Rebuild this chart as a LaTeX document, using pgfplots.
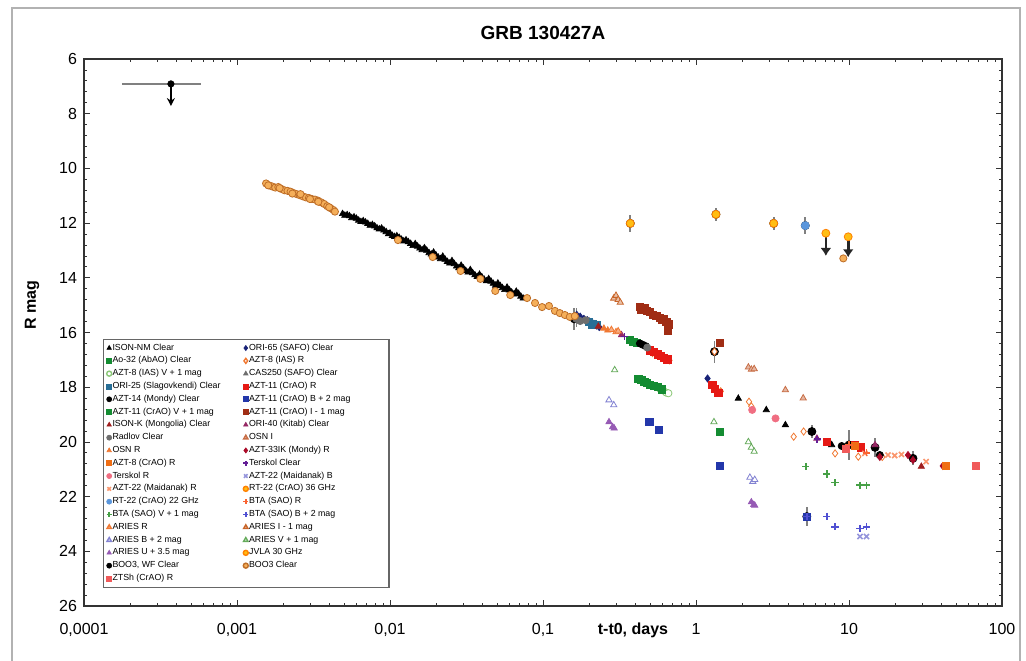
\documentclass[border=0pt]{standalone}
\usepackage{pgfplots}
\pgfplotsset{compat=1.18}
\usepackage{fontspec}
\setmainfont{Liberation Sans}
\usetikzlibrary{arrows.meta}

\definecolor{cGreen}{RGB}{20,140,50}
\definecolor{cLGreen}{RGB}{140,200,120}
\definecolor{cTeal}{RGB}{40,110,150}
\definecolor{cDRed}{RGB}{160,30,30}
\definecolor{cGrey}{RGB}{110,110,110}
\definecolor{cOrange}{RGB}{240,120,50}
\definecolor{cOrSq}{RGB}{240,110,20}
\definecolor{cPink}{RGB}{240,110,130}
\definecolor{cLOrange}{RGB}{250,150,110}
\definecolor{cBlueD}{RGB}{90,150,220}
\definecolor{cBTAg}{RGB}{70,160,70}
\definecolor{cLav}{RGB}{130,130,210}
\definecolor{cPurp}{RGB}{150,90,180}
\definecolor{cLRed}{RGB}{240,90,90}
\definecolor{cNavy}{RGB}{25,35,120}
\definecolor{cRed}{RGB}{230,25,20}
\definecolor{cBlue}{RGB}{35,55,170}
\definecolor{cBrownRed}{RGB}{160,45,20}
\definecolor{cMag}{RGB}{150,40,100}
\definecolor{cOsnI}{RGB}{200,110,70}
\definecolor{cDRed2}{RGB}{170,10,40}
\definecolor{cViolet}{RGB}{100,30,150}
\definecolor{cLav2}{RGB}{150,150,220}
\definecolor{cYel}{RGB}{255,190,20}
\definecolor{cOrPlus}{RGB}{250,100,50}
\definecolor{cBluePlus}{RGB}{80,80,210}
\definecolor{cBrown}{RGB}{200,100,40}
\definecolor{cGreenT}{RGB}{100,170,90}
\definecolor{cBoo}{RGB}{245,175,90}
\definecolor{cBooEdge}{RGB}{190,110,40}

\pgfplotsset{
  pt/.style 2 args={only marks, mark=#1, color=#2, mark size=1.8pt,
    mark options={line width=0.35pt}},
}

\begin{document}
\begin{tikzpicture}
\begin{axis}[
    at={(42pt,27pt)}, anchor=south west,
    scale only axis, width=459pt, height=273.5pt,
    xmode=log, xmin=1e-4, xmax=100,
    ymin=6, ymax=26, y dir=reverse,
    ytick={6,8,...,26}, minor y tick num=4,
    xtick={1e-4,1e-3,1e-2,1e-1,1,10,100},
    xticklabels={{0,0001},{0,001},{0,01},{0,1},1,10,100},
    tick align=inside, major tick length=3pt, minor tick length=1.6pt,
    tick style={black!80, line width=0.4pt},
    axis line style={black!80, line width=0.6pt},
    ticklabel style={font=\fontsize{8}{9}\selectfont},
    /pgf/number format/assume math mode=true,
    xticklabel style={yshift=-5pt},
    title={GRB 130427A},
    title style={font=\bfseries\fontsize{9.5}{11}\selectfont, at={(0.5,1)}, anchor=south, yshift=0pt},
    ylabel={R mag},
    ylabel style={font=\bfseries\fontsize{8}{9}\selectfont, at={(axis description cs:-0.041,0.55)}, anchor=south},
    xlabel={t-t0, days},
    xlabel style={font=\bfseries\fontsize{8}{9}\selectfont, at={(axis description cs:0.598,0)}, anchor=north, yshift=-5pt},
    legend columns=2,
    legend image code/.code={\draw[mark repeat=2,mark phase=2,#1] plot coordinates {(0pt,0pt)(3pt,0pt)(6pt,0pt)};},
    legend image post style={mark size=1.25pt},
    legend style={at={(0.0207,0.033)}, anchor=south west, draw=black!60, line width=0.7pt,
      fill=white, font=\fontsize{4.4}{4.8}\selectfont, inner xsep=1.5pt, inner ysep=2pt,
      row sep=1.6pt, nodes={inner sep=0.4pt, text height=3pt, text depth=1pt}},
    legend cell align=left,
]

% error bars and upper limits
\addplot[forget plot, only marks, mark=none,
  error bars/.cd, y dir=both, y explicit, error mark=none,
  error bar style={gray, line width=0.8pt}] coordinates {
  (0.372,12.01) +- (0,0.30) (1.35,11.68) +- (0,0.25) (3.22,12.01) +- (0,0.25)
  (5.18,12.09) +- (0,0.30) (1.32,16.70) +- (0,0.40) (0.160,15.50) +- (0,0.40)
  (0.166,15.45) +- (0,0.35) (5.72,19.62) +- (0,0.25) (10.0,20.11) +- (0,0.55)
  (14.8,20.20) +- (0,0.35) (26.2,20.60) +- (0,0.25) (5.30,22.73) +- (0,0.35)
};
\addplot[forget plot, gray, line width=1pt] coordinates {(1.77e-4,6.91)(5.83e-4,6.91)};
\addplot[forget plot, black, line width=0.8pt, -{Stealth[length=4pt,width=4pt]}] coordinates {(3.7e-4,6.91)(3.7e-4,7.72)};
\addplot[forget plot, black!85, line width=1.3pt, -{Latex[length=4pt,width=5.5pt]}] coordinates {(7.06,12.45)(7.06,13.2)};
\addplot[forget plot, black!85, line width=1.3pt, -{Latex[length=4pt,width=5.5pt]}] coordinates {(9.88,12.58)(9.88,13.25)};

% L1 / R1
\addplot[pt={triangle*}{black}] coordinates {
  (0.004898,11.66)(0.005248,11.70)(0.005623,11.81)(0.006026,11.83)(0.006457,11.95)
  (0.006918,11.97)(0.007413,12.09)(0.007943,12.11)(0.008511,12.22)(0.009120,12.26)
  (0.009772,12.40)(0.01000,12.37)(0.01072,12.50)(0.01148,12.53)(0.01230,12.66)
  (0.01318,12.69)(0.01413,12.83)(0.01514,12.85)(0.01622,12.98)(0.01738,13.00)
  (0.01862,13.14)(0.01995,13.17)(0.02138,13.31)(0.02291,13.33)(0.02455,13.47)
  (0.02630,13.49)(0.02818,13.64)(0.03020,13.65)(0.03236,13.80)(0.03467,13.82)
  (0.03715,13.96)(0.03981,13.97)(0.04266,14.12)(0.04571,14.13)(0.04898,14.28)
  (0.05248,14.29)(0.05623,14.44)(0.06026,14.45)(0.06457,14.60)(0.06918,14.58)
  (0.07413,14.75)
  (0.005070,11.72)(0.005435,11.74)(0.005821,11.78)(0.006238,11.90)(0.006683,11.92)
  (0.007161,12.02)(0.007673,12.06)(0.008222,12.18)(0.008810,12.19)(0.009441,12.32)
  (0.01036,12.46)(0.01109,12.47)(0.01188,12.60)(0.01273,12.62)(0.01364,12.75)
  (0.01462,12.76)(0.01567,12.92)(0.01679,12.91)(0.01799,13.09)(0.01927,13.07)
  (0.02065,13.25)(0.02213,13.22)(0.02371,13.41)(0.02541,13.38)(0.02722,13.58)
  (0.02917,13.55)(0.03126,13.74)(0.03349,13.71)(0.03589,13.90)(0.03846,13.88)
  (0.04121,14.06)(0.04416,14.04)(0.04732,14.21)(0.05070,14.20)(0.05432,14.37)
  (0.05821,14.35)(0.06238,14.53)(0.06683,14.50)(0.07161,14.68)
  (1.89,18.41)(2.88,18.83)(3.84,19.38)(5.72,19.62)(7.71,20.11)
};
\addlegendentry{\makebox[65pt][l]{ISON-NM Clear}}
\addplot[pt={diamond*}{cNavy}] coordinates {
  (0.166,15.35)(0.175,15.42)(0.185,15.50)(0.195,15.55)(0.205,15.62)(0.215,15.68)
  (0.225,15.75)(0.233,15.80)(1.19,17.68)
};
\addlegendentry{\makebox[68pt][l]{ORI-65 (SAFO) Clear}}

% L2 / R2
\addplot[pt={square*}{cGreen}] coordinates {(0.37,16.28)(0.39,16.35)(0.41,16.38)};
\addlegendentry{Ao-32 (AbAO) Clear}
\addplot[pt={diamond*}{cOrange}, mark options={fill=white}] coordinates {
  (0.52,16.75)(0.56,16.84)(0.60,16.90)(0.64,16.98)(0.67,17.02)(1.32,16.70)(1.45,18.15)
  (2.22,18.53)(2.30,18.70)(4.35,19.81)(5.05,19.62)(8.11,20.42)(11.5,20.54)(16.5,20.55)
};
\addlegendentry{AZT-8 (IAS) R}

% L3 / R3
\addplot[pt={*}{cLGreen}, mark options={fill=white}] coordinates {(0.58,18.05)(0.61,18.12)(0.64,18.20)(0.66,18.22)};
\addlegendentry{AZT-8 (IAS) V + 1 mag}
\addplot[pt={triangle*}{cGrey}] coordinates {(0.20,15.58)(0.21,15.66)};
\addlegendentry{CAS250 (SAFO) Clear}

% L4 / R4
\addplot[pt={square*}{cTeal}] coordinates {(0.20,15.62)(0.21,15.70)(0.225,15.72)};
\addlegendentry{ORI-25 (Slagovkendi) Clear}
\addplot[pt={square*}{cRed}] coordinates {
  (0.50,16.65)(0.53,16.72)(0.56,16.80)(0.59,16.86)(0.62,16.92)(0.65,16.98)
  (1.28,17.90)(1.33,18.05)(1.40,18.20)(7.16,19.99)(10.9,20.11)(12.0,20.20)
};
\addlegendentry{AZT-11 (CrAO) R}

% L5 / R5
\addplot[pt={*}{black}] coordinates {(0.43,16.40)(0.45,16.45)(0.47,16.50)(8.96,20.15)(15.9,20.48)};
\addlegendentry{AZT-14 (Mondy) Clear}
\addplot[pt={square*}{cBlue}] coordinates {(0.495,19.27)(0.575,19.56)(1.44,20.88)(5.30,22.73)};
\addlegendentry{AZT-11 (CrAO) B + 2 mag}

% L6 / R6
\addplot[pt={square*}{cGreen}] coordinates {
  (0.42,17.68)(0.44,17.74)(0.46,17.80)(0.48,17.84)(0.50,17.90)(0.53,17.95)(0.56,18.00)
  (0.60,18.08)(1.44,19.64)
};
\addlegendentry{AZT-11 (CrAO) V + 1 mag}
\addplot[pt={square*}{cBrownRed}] coordinates {
  (0.43,15.05)(0.44,15.15)(0.46,15.10)(0.48,15.20)(0.50,15.25)(0.52,15.35)(0.55,15.40)
  (0.58,15.45)(0.60,15.55)(0.62,15.50)(0.64,15.60)(0.66,15.70)(0.655,15.95)(1.44,16.37)
};
\addlegendentry{AZT-11 (CrAO) I - 1 mag}

% L7 / R7
\addplot[pt={triangle*}{cDRed}] coordinates {(0.23,15.78)(29.7,20.90)};
\addlegendentry{ISON-K (Mongolia) Clear}
\addplot[pt={triangle*}{cMag}] coordinates {(0.326,16.09)(6.17,19.87)(14.8,20.11)};
\addlegendentry{ORI-40 (Kitab) Clear}

% L8 / R8
\addplot[pt={*}{cGrey}] coordinates {(0.165,15.50)(0.175,15.58)(0.19,15.55)(0.48,16.55)};
\addlegendentry{Radlov Clear}
\addplot[pt={triangle*}{cOsnI}, mark options={fill=cOsnI!50}] coordinates {(2.20,17.27)(2.30,17.35)(2.40,17.33)(3.84,18.10)(5.02,18.40)};
\addlegendentry{OSN I}

% L9 / R9
\addplot[pt={triangle*}{cOrange}] coordinates {(0.25,15.85)(0.265,15.92)};
\addlegendentry{OSN R}
\addplot[pt={diamond*}{cDRed2}] coordinates {(15.9,20.55)(24.3,20.48)(26.2,20.66)(41.0,20.88)};
\addlegendentry{AZT-33IK (Mondy) R}

% L10 / R10
\addplot[pt={square*}{cOrSq}] coordinates {(10.9,20.15)(43.1,20.88)};
\addlegendentry{AZT-8 (CrAO) R}
\addplot[pt={+}{cViolet}, mark options={line width=0.8pt}] coordinates {(0.34,16.15)(6.20,19.90)};
\addlegendentry{Terskol Clear}

% L11 / R11
\addplot[pt={*}{cPink}] coordinates {(2.33,18.83)(3.31,19.14)};
\addlegendentry{Terskol R}
\addplot[pt={x}{cLav2}, mark options={line width=0.8pt}] coordinates {(11.8,23.46)(13.0,23.46)};
\addlegendentry{AZT-22 (Maidanak) B}

% L12 / R12
\addplot[pt={x}{cLOrange}, mark options={line width=0.8pt}] coordinates {(12.7,20.42)(18.0,20.48)(19.9,20.50)(22.0,20.46)(31.9,20.72)};
\addlegendentry{AZT-22 (Maidanak) R}
\addplot[pt={*}{cYel}, mark size=2pt, mark options={draw=orange}] coordinates {(0.372,12.01)(1.35,11.68)(3.22,12.01)};
\addlegendentry{RT-22 (CrAO) 36 GHz}

% L13 / R13
\addplot[pt={*}{cBlueD}, mark size=2pt] coordinates {(5.18,12.09)};
\addlegendentry{RT-22 (CrAO) 22 GHz}
\addplot[pt={+}{cOrPlus}, mark options={line width=0.8pt}] coordinates {(10.0,20.11)(13.0,20.40)};
\addlegendentry{BTA (SAO) R}

% L14 / R14
\addplot[pt={+}{cBTAg}, mark options={line width=0.8pt}] coordinates {(5.22,20.90)(7.16,21.17)(8.11,21.49)(11.8,21.58)(13.0,21.58)};
\addlegendentry{BTA (SAO) V + 1 mag}
\addplot[pt={+}{cBluePlus}, mark options={line width=0.8pt}] coordinates {(5.30,22.73)(7.16,22.73)(8.11,23.10)(11.8,23.16)(13.0,23.10)};
\addlegendentry{BTA (SAO) B + 2 mag}

% L15 / R15
\addplot[pt={triangle*}{cOrange}, mark options={fill=cOrange!60}] coordinates {(0.28,15.90)(0.30,15.98)(0.31,15.95)};
\addlegendentry{ARIES R}
\addplot[pt={triangle*}{cBrown}, mark options={fill=cBrown!40}] coordinates {(0.29,14.75)(0.30,14.65)(0.31,14.80)(0.32,14.90)};
\addlegendentry{ARIES I - 1 mag}

% L16 / R16
\addplot[pt={triangle*}{cLav}, mark options={fill=white}] coordinates {(0.27,18.47)(0.29,18.65)(2.25,21.30)(2.35,21.45)(2.42,21.38)};
\addlegendentry{ARIES B + 2 mag}
\addplot[pt={triangle*}{cGreenT}, mark options={fill=white}] coordinates {(0.294,17.37)(1.31,19.27)(2.20,20.00)(2.30,20.20)(2.40,20.35)};
\addlegendentry{ARIES V + 1 mag}

% L17 / R17
\addplot[pt={triangle*}{cPurp}] coordinates {(0.27,19.27)(0.285,19.45)(0.292,19.50)(2.30,22.20)(2.38,22.30)(2.42,22.32)};
\addlegendentry{ARIES U + 3.5 mag}
\addplot[pt={*}{cYel}, mark size=2pt, mark options={draw=orange}] coordinates {(7.06,12.37)(9.88,12.50)};
\addlegendentry{JVLA 30 GHz}

% L18 / R18
\addplot[pt={*}{black}, mark size=1.6pt] coordinates {(3.7e-4,6.91)};
\addlegendentry{BOO3, WF Clear}
\addplot[pt={*}{cBoo}, mark size=1.8pt, mark options={draw=cBooEdge, fill=cBoo}] coordinates {
  (0.001549,10.55)(0.001622,10.62)(0.001698,10.66)(0.001778,10.70)(0.001862,10.68)
  (0.001950,10.75)(0.002042,10.80)(0.002138,10.82)(0.002239,10.85)(0.002344,10.90)
  (0.002455,10.94)(0.002570,10.98)(0.002692,11.02)(0.002818,11.06)(0.002951,11.08)
  (0.003090,11.12)(0.003236,11.14)(0.003388,11.18)(0.003548,11.24)(0.003715,11.30)
  (0.003890,11.38)(0.004074,11.45)(0.004266,11.52)(0.004365,11.58)
  (0.0016,10.62)(0.0019,10.72)(0.0023,10.92)(0.0026,10.94)(0.0030,11.12)(0.0034,11.22)(0.0040,11.42)
  (0.01127,12.62)(0.01901,13.24)(0.02891,13.75)(0.03899,14.04)(0.04875,14.48)(0.06109,14.63)
  (0.0787,14.74)(0.0887,14.92)(0.0986,15.07)(0.1094,15.03)(0.1197,15.21)(0.1288,15.29)
  (0.1390,15.36)(0.1496,15.43)(0.1614,15.40)(9.18,13.29)
};
\addlegendentry{BOO3 Clear}

% L19
\addplot[pt={square*}{cLRed}] coordinates {(9.5,20.25)(67.4,20.88)};
\addlegendentry{ZTSh (CrAO) R}

\end{axis}
\draw[gray!60, line width=0.6pt] (6pt,-10pt) -- (6pt,326pt) -- (510pt,326pt) -- (510pt,-10pt);
\pgfresetboundingbox
\path[use as bounding box] (0,0) rectangle (513pt,330pt);
\end{tikzpicture}
\end{document}
